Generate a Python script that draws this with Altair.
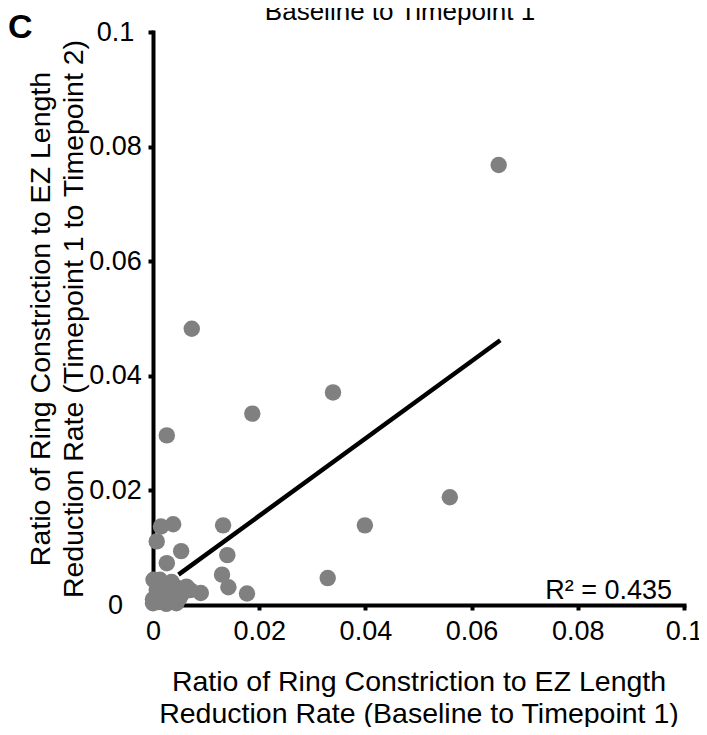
import altair as alt
import pandas as pd

# Scatter data: x = Baseline->Timepoint 1 ratio, y = Timepoint 1->Timepoint 2 ratio
x_vals = [0.0651, 0.0073, 0.0339, 0.0187, 0.0026, 0.0559, 0.0399, 0.0329,
          0.0132, 0.0140, 0.0130, 0.0142, 0.0177, 0.0090, 0.0038, 0.0015,
          0.0007, 0.0053, 0.0026, 0.0063, 0.0070,
          0.0001, 0.0013, 0.0020, 0.0007, 0.0030, 0.0040, 0.0000, 0.0010,
          0.0020, 0.0030, 0.0044, 0.0000, 0.0025, 0.0050, 0.0035, 0.0015,
          0.0045, 0.0055]
y_vals = [0.0768, 0.0482, 0.0371, 0.0334, 0.0296, 0.0188, 0.0139, 0.0047,
          0.0139, 0.0087, 0.0053, 0.0031, 0.0020, 0.0021, 0.0141, 0.0137,
          0.0111, 0.0094, 0.0073, 0.0032, 0.0026,
          0.0044, 0.0044, 0.0035, 0.0026, 0.0028, 0.0020, 0.0010, 0.0005,
          0.0012, 0.0006, 0.0003, 0.0003, 0.0002, 0.0012, 0.0040, 0.0020,
          0.0030, 0.0020]

# Linear fit line end points
fit_x = [0.0048, 0.0654]
fit_y = [0.0053, 0.0462]

ticks = [0, 0.02, 0.04, 0.06, 0.08, 0.1]
r2_label = "R² = 0.435"
panel_label = "C"
top_title = "Baseline to Timepoint 1"
x_title = ["Ratio of Ring Constriction to EZ Length",
           "Reduction Rate (Baseline to Timepoint 1)"]
y_title = ["Ratio of Ring Constriction to EZ Length",
           "Reduction Rate (Timepoint 1 to Timepoint 2)"]

FONT = "Liberation Sans"
W, H = 531, 573

pts = pd.DataFrame({"x": x_vals, "y": y_vals})
fit = pd.DataFrame({"x": fit_x, "y": fit_y})

xscale = alt.Scale(domain=[0, 0.1], nice=False, zero=False)
yscale = alt.Scale(domain=[0, 0.1], nice=False, zero=False)

xaxis = alt.Axis(values=ticks, format="~g", title=x_title,
                 titleX=W / 2, titleY=85, titleAlign="center",
                 titleBaseline="alphabetic", titleLineHeight=32,
                 labelPadding=8, labelFlush=False)
yaxis = alt.Axis(values=ticks, format="~g", title=y_title,
                 titleX=-113, titleY=H / 2, titleAngle=-90,
                 titleAlign="center", titleBaseline="middle",
                 titleLineHeight=33, labelAlign="center",
                 labelBaseline="middle", labelPadding=33, labelFlush=False)

points = alt.Chart(pts).mark_circle(size=270, color="#808080", opacity=1).encode(
    x=alt.X("x:Q", scale=xscale, axis=xaxis),
    y=alt.Y("y:Q", scale=yscale, axis=yaxis),
)

line = alt.Chart(fit).mark_line(color="black", strokeWidth=4.5).encode(
    x=alt.X("x:Q", scale=xscale),
    y=alt.Y("y:Q", scale=yscale),
)

r2 = alt.Chart(pd.DataFrame({"t": [r2_label]})).mark_text(
    font=FONT, fontSize=27, align="right", baseline="alphabetic", color="black"
).encode(x=alt.value(519), y=alt.value(567), text="t:N")

ttl = alt.Chart(pd.DataFrame({"t": [top_title]})).mark_text(
    font=FONT, fontSize=26, align="center", baseline="alphabetic", color="black"
).encode(x=alt.value(247), y=alt.value(-12), text="t:N")

lab = alt.Chart(pd.DataFrame({"t": [panel_label]})).mark_text(
    font=FONT, fontSize=34, fontWeight="bold", align="left",
    baseline="alphabetic", color="black"
).encode(x=alt.value(-145), y=alt.value(6), text="t:N")

chart = alt.layer(points, line, r2, ttl, lab).properties(
    width=W, height=H,
    autosize=alt.AutoSizeParams(type="none"),
    padding={"left": 145, "top": 24, "right": 15, "bottom": 122},
).configure_view(stroke=None).configure_axis(
    grid=False,
    domainColor="black", domainWidth=4, domainCap="square",
    tickColor="black", tickWidth=4, tickSize=5,
    labelFont=FONT, labelFontSize=27, labelColor="black",
    titleFont=FONT, titleFontSize=28.5, titleFontWeight="normal", titleColor="black",
)

chart.save("out.html", embed_options={"renderer": "svg", "actions": False})
